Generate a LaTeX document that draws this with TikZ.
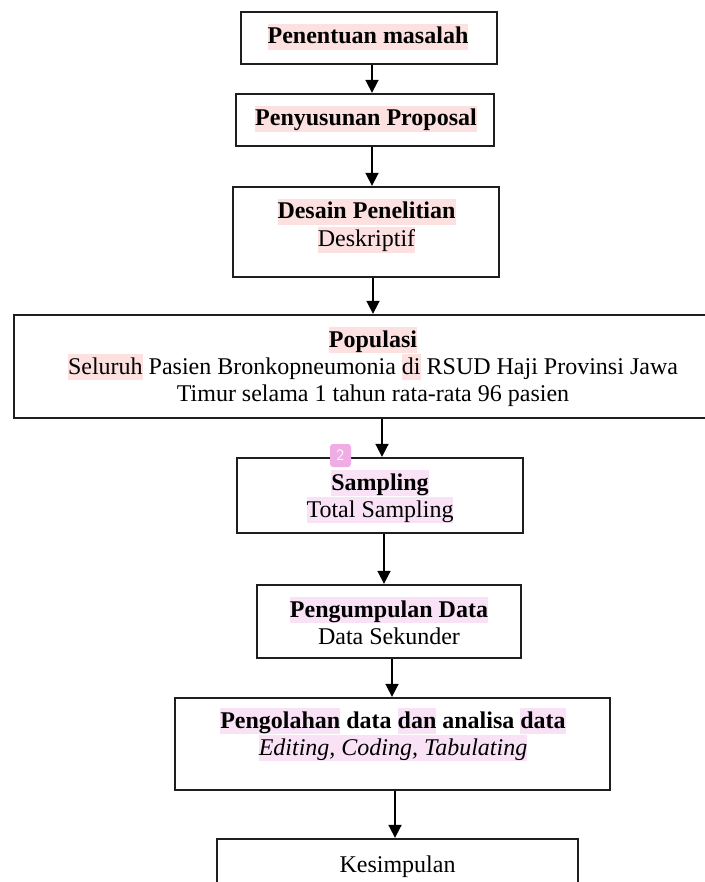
\documentclass[tikz,border=0pt]{standalone}
\usepackage{fontspec}
\setmainfont{Liberation Serif}
\usetikzlibrary{arrows.meta}
\definecolor{hlr}{RGB}{253,224,224}
\definecolor{hlm}{RGB}{249,226,246}
\definecolor{badgec}{RGB}{240,172,228}
\definecolor{edge}{RGB}{30,30,30}
\newlength\hlw
\newcommand\hl[2]{\settowidth\hlw{#2}\makebox[0pt][l]{\color{#1}\rule[-0.27em]{\hlw}{1.12em}}#2}
\begin{document}
\begin{tikzpicture}[x=1pt,y=-1pt,
  box/.style={draw=edge,line width=2.3pt,rectangle,inner sep=0pt},
  txt/.style={anchor=base,inner sep=0pt,font=\fontsize{24}{27}\selectfont},
  arr/.style={draw=black,line width=1.7pt,-{Triangle[width=13pt,length=13pt]}}]
\useasboundingbox (0,0) rectangle (704,882);
% boxes
\node[box,minimum width=256pt,minimum height=52pt] (b1) at (369,38) {};
\node[box,minimum width=258pt,minimum height=52pt] (b2) at (365,120) {};
\node[box,minimum width=266pt,minimum height=90pt] (b3) at (366,232) {};
\node[box,minimum width=718pt,minimum height=103pt] (b4) at (373,366.5) {};
\node[box,minimum width=286pt,minimum height=75pt] (b5) at (380,495.5) {};
\node[box,minimum width=264pt,minimum height=73pt] (b6) at (389,621.5) {};
\node[box,minimum width=435pt,minimum height=92pt] (b7) at (392.5,744) {};
\node[box,minimum width=361pt,minimum height=61pt] (b8) at (397.5,869.5) {};
% texts
\node[txt] (t1) at (368,44) {\hl{hlr}{\textbf{Penentuan masalah}}};
\node[txt] (t2) at (366,126) {\hl{hlr}{\textbf{Penyusunan Proposal}}};
\node[txt] (t3a) at (366.5,219) {\hl{hlr}{\textbf{Desain Penelitian}}};
\node[txt] (t3b) at (366.5,247) {\hl{hlr}{Deskriptif}};
\node[txt] (t4a) at (373,347) {\hl{hlr}{\textbf{Populasi}}};
\node[txt] (t4b) at (373,374) {\hl{hlr}{Seluruh} Pasien Bronkopneumonia \hl{hlr}{di} RSUD Haji Provinsi Jawa};
\node[txt] (t4c) at (373,401) {Timur selama 1 tahun rata-rata 96 pasien};
\node[txt] (t5a) at (380,490) {\hl{hlm}{\textbf{Sampling}}};
\node[txt] (t5b) at (380,517) {\hl{hlm}{Total Sampling}};
\node[txt] (t6a) at (389,617) {\hl{hlm}{\textbf{Pengumpulan Data}}};
\node[txt] (t6b) at (389,644) {Data Sekunder};
\node[txt] (t7a) at (393,728) {\bfseries\hl{hlm}{Pengolahan} data \hl{hlm}{dan} analisa \hl{hlm}{data}};
\node[txt] (t7b) at (393,755) {\hl{hlm}{\textit{Editing, Coding, Tabulating}}};
\node[txt] (t8) at (397.5,872) {Kesimpulan};
% badge
\node[fill=badgec,rounded corners=3pt,minimum width=21pt,minimum height=23pt,inner sep=0pt,text=white,font=\fontsize{16}{16}\sffamily] (badge) at (340.5,455.5) {2};
% arrow x positions
\coordinate (x1) at (372,0);
\coordinate (x2) at (372,0);
\coordinate (x3) at (373,0);
\coordinate (x4) at (382,0);
\coordinate (x5) at (384,0);
\coordinate (x6) at (392,0);
\coordinate (x7) at (395,0);
\draw[arr] (b1.south -| x1) -- (b2.north -| x1);
\draw[arr] (b2.south -| x2) -- (b3.north -| x2);
\draw[arr] (b3.south -| x3) -- (b4.north -| x3);
\draw[arr] (b4.south -| x4) -- (b5.north -| x4);
\draw[arr] (b5.south -| x5) -- (b6.north -| x5);
\draw[arr] (b6.south -| x6) -- (b7.north -| x6);
\draw[arr] (b7.south -| x7) -- (b8.north -| x7);
\end{tikzpicture}
\end{document}
